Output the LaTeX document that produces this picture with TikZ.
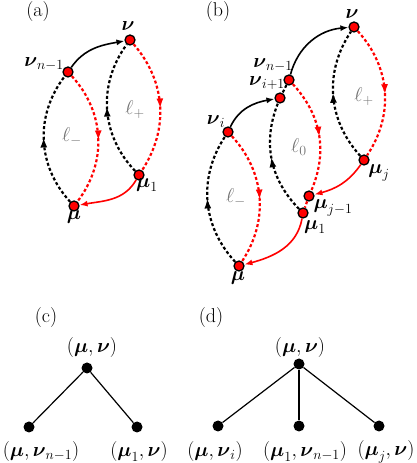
\documentclass[tikz,border=0pt]{standalone}
\usepackage{fix-cm}
\usepackage{amsmath}
\usetikzlibrary{arrows.meta,decorations.markings}
\begin{document}
\begin{tikzpicture}[x=1pt,y=1pt,
  every node/.style={font=\fontsize{20}{24}\selectfont},
  vert/.style={circle,draw=black,fill=red,line width=1.3pt,inner sep=0pt,minimum size=10pt},
  tnode/.style={circle,fill=black,inner sep=0pt,minimum size=11pt},
  lab/.style={inner sep=0pt},
  ell/.style={inner sep=0pt,text=black!55},
  blacksolid/.style={line width=1.6pt,-{Latex[length=8pt,width=6pt]}},
  redsolid/.style={line width=1.6pt,red,-{Latex[length=8pt,width=6pt]}},
  dashline/.style={line width=2.2pt,dash pattern=on 3pt off 2.3pt},
  midarrow/.style={postaction={decorate,solid},decoration={markings,mark=at position 0.52 with {\arrow{Latex[length=10pt,width=7pt]}}}},
  blackdash/.style={dashline,black,midarrow},
  reddash/.style={dashline,red,midarrow},
  tedge/.style={line width=1.2pt}]
\useasboundingbox (0,0) rectangle (416,463);
% ---------- (a)
\node[lab] (pa) at (38,451) {(a)};
\node[vert] (nu_a) at (130,423) {};
\node[vert] (nn_a) at (68,391) {};
\node[vert] (m1_a) at (139,288) {};
\node[vert] (mu_a) at (74,257) {};
\node[lab] (lnu_a) at (128,437) {$\boldsymbol{\nu}$};
\node[lab] (lnn_a) at (44,399) {$\boldsymbol{\nu}_{n-1}$};
\node[lab] (lm1_a) at (147,278) {$\boldsymbol{\mu}_1$};
\node[lab] (lmu_a) at (74,246) {$\boldsymbol{\mu}$};
\node[ell] (lm_a) at (72,326) {$\ell_-$};
\node[ell] (lp_a) at (135,353) {$\ell_+$};
\draw[blacksolid] (nn_a) to[out=55,in=190] (nu_a);
\draw[redsolid] (m1_a) to[out=240,in=10] (mu_a);
\draw[blackdash] (mu_a) to[bend left=40] (nn_a);
\draw[reddash] (nn_a) to[bend left=40] (mu_a);
\draw[blackdash] (m1_a) to[bend left=40] (nu_a);
\draw[reddash] (nu_a) to[bend left=37] (m1_a);
% ---------- (b)
\node[lab] (pb) at (218,451) {(b)};
\node[vert] (nu_b) at (354,436) {};
\node[vert] (nn_b) at (289,383) {};
\node[vert] (ni1_b) at (280,365) {};
\node[vert] (ni_b) at (228,331) {};
\node[vert] (mj_b) at (364,303) {};
\node[vert] (mj1_b) at (309,267) {};
\node[vert] (m1_b) at (303,250) {};
\node[vert] (mu_b) at (239,197) {};
\node[lab] (lnu_b) at (352,449) {$\boldsymbol{\nu}$};
\node[lab] (lnn_b) at (273,398) {$\boldsymbol{\nu}_{n-1}$};
\node[lab] (lni1_b) at (267,380) {$\boldsymbol{\nu}_{i+1}$};
\node[lab] (lni_b) at (216,341) {$\boldsymbol{\nu}_i$};
\node[lab] (lmj_b) at (379,290) {$\boldsymbol{\mu}_j$};
\node[lab] (lmj1_b) at (333,255) {$\boldsymbol{\mu}_{j-1}$};
\node[lab] (lm1_b) at (315,236) {$\boldsymbol{\mu}_1$};
\node[lab] (lmu_b) at (238,185) {$\boldsymbol{\mu}$};
\node[ell] (lp_b) at (364,366) {$\ell_+$};
\node[ell] (l0_b) at (299,316) {$\ell_0$};
\node[ell] (lm_b) at (236,265) {$\ell_-$};
\draw[blacksolid] (ni_b) to[out=65,in=190] (ni1_b);
\draw[blacksolid] (nn_b) to[out=75,in=185] (nu_b);
\draw[dashline] (nn_b) -- (ni1_b);
\draw[blackdash] (mu_b) to[bend left=38] (ni_b);
\draw[reddash] (ni_b) to[bend left=38] (mu_b);
\draw[blackdash] (m1_b) to[bend left=33] (ni1_b);
\draw[reddash] (nn_b) to[bend left=33] (mj1_b);
\draw[dashline,red] (mj1_b) -- (m1_b);
\draw[blackdash] (mj_b) to[bend left=38] (nu_b);
\draw[reddash] (nu_b) to[bend left=38] (mj_b);
\draw[redsolid] (mj_b) to[out=235,in=15] (mj1_b);
\draw[redsolid] (m1_b) to[out=260,in=15] (mu_b);
% ---------- (c)
\node[lab] (pc) at (46,145) {(c)};
\node[tnode] (ct) at (87,95) {};
\node[tnode] (cl) at (29,36) {};
\node[tnode] (cr) at (137,36) {};
\draw[tedge] (ct) -- (cl);
\draw[tedge] (ct) -- (cr);
\node[lab] (lct) at (92,115) {$(\boldsymbol{\mu},\boldsymbol{\nu})$};
\node[lab] (lcl) at (41,11) {$(\boldsymbol{\mu},\boldsymbol{\nu}_{n-1})$};
\node[lab] (lcr) at (139,11) {$(\boldsymbol{\mu}_1,\boldsymbol{\nu})$};
% ---------- (d)
\node[lab] (pd) at (211,145) {(d)};
\node[tnode] (dt) at (299,99) {};
\node[tnode] (dl) at (218,37) {};
\node[tnode] (dm) at (299,37) {};
\node[tnode] (dr) at (379,37) {};
\draw[tedge] (dt) -- (dl);
\draw[tedge] (dt) -- (dm);
\draw[tedge] (dt) -- (dr);
\node[lab] (ldt) at (300,115) {$(\boldsymbol{\mu},\boldsymbol{\nu})$};
\node[lab] (ldl) at (215,11) {$(\boldsymbol{\mu},\boldsymbol{\nu}_i)$};
\node[lab] (ldm) at (305,11) {$(\boldsymbol{\mu}_1,\boldsymbol{\nu}_{n-1})$};
\node[lab] (ldr) at (386,11) {$(\boldsymbol{\mu}_j,\boldsymbol{\nu})$};
\end{tikzpicture}
\end{document}
